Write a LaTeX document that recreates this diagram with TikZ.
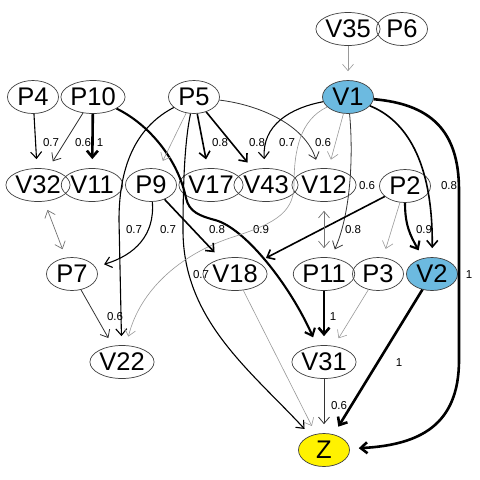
\documentclass[tikz,border=0pt]{standalone}
\usepackage{fontspec}
\setmainfont{Liberation Sans}
\usetikzlibrary{shapes.geometric,arrows.meta}
\definecolor{nodeblue}{RGB}{108,186,224}
\begin{document}
\begin{tikzpicture}[x=1pt,y=-1pt,
  nd/.style={ellipse, draw=black!75, line width=0.7pt, minimum width=51pt, minimum height=33pt, inner sep=0pt, font=\fontsize{25.5}{25.5}\selectfont},
  lbl/.style={font=\fontsize{11.5}{12}\selectfont, inner sep=0pt, text=black},
  arr/.style={-{Straight Barb[length=6.5pt,width=11pt]}, shorten >=9pt},
  e10/.style={arr, line width=2.6pt},
  e09/.style={arr, line width=2.1pt},
  e08/.style={arr, line width=1.6pt},
  e07/.style={arr, line width=1.1pt},
  e06/.style={arr, line width=0.8pt, black!80},
  eg/.style={arr, line width=0.6pt, black!40},
  ebi/.style={{Straight Barb[length=6.5pt,width=11pt]}-{Straight Barb[length=6.5pt,width=11pt]}, shorten >=9pt, shorten <=9pt, line width=0.7pt, black!55}]
\fill[white] (0,0) rectangle (480,480);
\useasboundingbox (0,0) rectangle (480,480);
% nodes
\node[nd] (V35) at (348,29) {V35};
\node[nd] (P6) at (402,29) {P6};
\node[nd] (P4) at (33,97) {P4};
\node[nd] (P10) at (93,97) {P10};
\node[nd] (P5) at (194,97) {P5};
\node[nd, fill=nodeblue] (V1) at (348,97) {V1};
\node[nd] (V32) at (38,185) {V32};
\node[nd] (V11) at (92,185) {V11};
\node[nd] (P9) at (151,185) {P9};
\node[nd] (V17) at (211,185) {V17};
\node[nd] (V43) at (266,185) {V43};
\node[nd] (V12) at (324,185) {V12};
\node[nd] (P2) at (405,186) {P2};
\node[nd] (P7) at (72,274) {P7};
\node[nd] (V18) at (235,274) {V18};
\node[nd] (P11) at (324,274) {P11};
\node[nd] (P3) at (378,274) {P3};
\node[nd, fill=nodeblue] (V2) at (432,274) {V2};
\node[nd] (V22) at (122,362) {V22};
\node[nd] (V31) at (324,362) {V31};
\node[nd, fill=yellow] (Z) at (324,450) {Z};
% edges
\draw[eg] (V35) -- (V1);
\draw[e07] (P4) -- (V32) node[lbl] at (51,143) {0.7};
\draw[e06] (P10) -- (V32) node[lbl] at (83,143) {0.6};
\draw[e10] (P10) -- (V11) node[lbl] at (100,143) {1};
\draw[e09] (P10) .. controls (150,125) and (178,160) .. (186,198) .. controls (189,212) and (200,216) .. (215,220) .. controls (245,228) and (290,285) .. (V31) node[lbl] at (261,230) {0.9};
\draw[eg] (P5) -- (P9);
\draw[e07] (P5) .. controls (140,125) and (119,160) .. (119,220) -- (V22) node[lbl] at (134,230) {0.7};
\draw[e08] (P5) -- (V17) node[lbl] at (220,143) {0.8};
\draw[e08] (P5) -- (V43) node[lbl] at (257,143) {0.8};
\draw[e06] (P5) .. controls (260,105) and (305,125) .. (V12) node[lbl] at (323,143) {0.6};
\draw[e07] (P5) .. controls (185,140) and (183,180) .. (183,230) .. controls (183,320) and (250,370) .. (Z) node[lbl] at (201,275) {0.7};
\draw[e07] (V1) .. controls (290,108) and (262,125) .. (V43) node[lbl] at (287,143) {0.7};
\draw[eg] (V1) -- (V12);
\draw[eg] (V1) .. controls (300,120) and (294,150) .. (294,185) .. controls (294,215) and (270,225) .. (230,238) .. controls (180,255) and (140,290) .. (V22);
\draw[e06] (V1) .. controls (353,150) and (352,210) .. (P11) node[lbl] at (367,186) {0.6};
\draw[e08] (V1) .. controls (405,120) and (433,160) .. (V2) node[lbl] at (449,186) {0.8};
\draw[e10] (V1) .. controls (430,104) and (459,130) .. (459,190) -- (459,360) .. controls (459,425) and (420,445) .. (Z) node[lbl] at (469,275) {1};
\draw[e08] (P2) -- (V18) node[lbl] at (353,230) {0.8};
\draw[eg] (P2) -- (P3);
\draw[e09] (P2) .. controls (405,225) and (410,235) .. (V2) node[lbl] at (424,230) {0.9};
\draw[ebi] (V12) -- (P11);
\draw[e07] (P9) .. controls (155,235) and (135,255) .. (P7) node[lbl] at (168,230) {0.7};
\draw[e08] (P9) -- (V18) node[lbl] at (217,230) {0.8};
\draw[ebi] (V32) -- (P7);
\draw[e06] (P7) -- (V22) node[lbl] at (115,317) {0.6};
\draw[eg] (V18) -- (Z);
\draw[e10] (P11) -- (V31) node[lbl] at (333,317) {1};
\draw[eg] (P3) -- (V31);
\draw[e10] (V2) -- (Z) node[lbl] at (399,363) {1};
\draw[e06] (V31) -- (Z) node[lbl] at (339,406) {0.6};
\end{tikzpicture}
\end{document}
